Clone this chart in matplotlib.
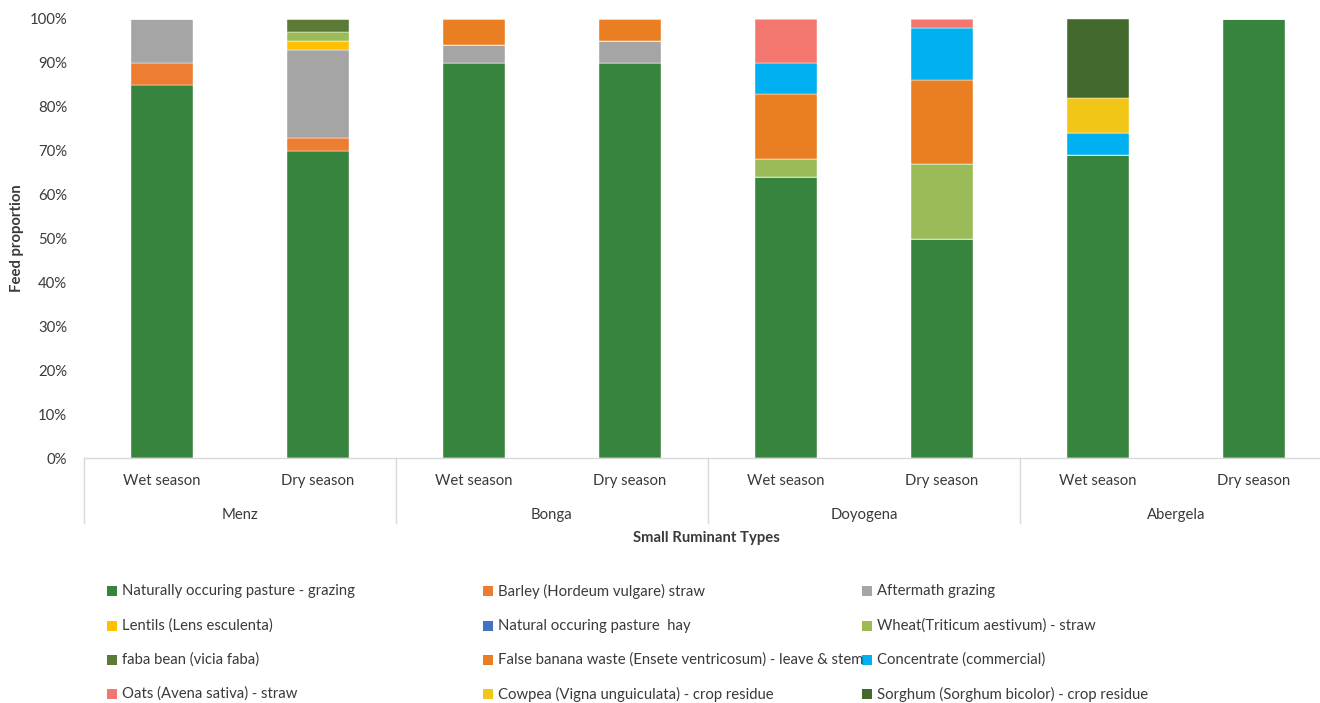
import matplotlib
matplotlib.use("Agg")
import matplotlib.pyplot as plt
import matplotlib.transforms as mtransforms
from matplotlib.patches import Rectangle
import numpy as np

plt.rcParams['font.family'] = ['Lato', 'DejaVu Sans']

regions = ["Menz", "Bonga", "Doyogena", "Abergela"]
seasons = ["Wet season", "Dry season"]

feed_types = [
    "Naturally occuring pasture - grazing",
    "Barley (Hordeum vulgare) straw",
    "Aftermath grazing",
    "Lentils (Lens esculenta)",
    "Natural occuring pasture  hay",
    "Wheat(Triticum aestivum) - straw",
    "faba bean (vicia faba)",
    "False banana waste (Ensete ventricosum) - leave & stem",
    "Concentrate (commercial)",
    "Oats (Avena sativa) - straw",
    "Cowpea (Vigna unguiculata) - crop residue",
    "Sorghum (Sorghum bicolor) - crop residue",
]

# Percent of feed, per bar: Menz wet/dry, Bonga wet/dry, Doyogena wet/dry, Abergela wet/dry
pasture_grazing = [85, 70, 90, 90, 64, 50, 69, 100]
barley_straw    = [5, 3, 0, 0, 0, 0, 0, 0]
aftermath       = [10, 20, 4, 5, 0, 0, 0, 0]
lentils         = [0, 2, 0, 0, 0, 0, 0, 0]
pasture_hay     = [0, 0, 0, 0, 0, 0, 0, 0]
wheat_straw     = [0, 2, 0, 0, 4, 17, 0, 0]
faba_bean       = [0, 3, 0, 0, 0, 0, 0, 0]
false_banana    = [0, 0, 6, 5, 15, 19, 0, 0]
concentrate     = [0, 0, 0, 0, 7, 12, 5, 0]
oats_straw      = [0, 0, 0, 0, 10, 2, 0, 0]
cowpea          = [0, 0, 0, 0, 0, 0, 8, 0]
sorghum         = [0, 0, 0, 0, 0, 0, 18, 0]

series = [pasture_grazing, barley_straw, aftermath, lentils, pasture_hay,
          wheat_straw, faba_bean, false_banana, concentrate, oats_straw,
          cowpea, sorghum]

colors = ["#37843F", "#ED7D31", "#A5A5A5", "#FFC000", "#4472C4", "#9BBB59",
          "#5A7A36", "#E97F22", "#00B0F0", "#F3776F", "#F2C616", "#436A2C"]

text_color = "#3A3A3A"
line_color = "#D9D9D9"
fs = 10.7

W, H = 1320, 703
fig = plt.figure(figsize=(W / 100, H / 100), dpi=100)

left = 84 / W
bottom = 1 - 458 / H
top = 1 - 19 / H
width = 8 * 156 / W
ax = fig.add_axes([left, bottom, width, top - bottom])

x = np.arange(len(regions) * len(seasons))
base = np.zeros(len(x))
for vals, col in zip(series, colors):
    v = np.array(vals, dtype=float) / 100.0
    ax.bar(x, v, width=0.4, bottom=base, color=col, edgecolor="white",
           linewidth=0.3)
    base += v

ax.set_xlim(-0.5, len(x) - 0.5)
ax.set_ylim(0, 1)
ax.set_yticks(np.arange(0, 1.01, 0.1))
ax.set_yticklabels([f"{int(round(t * 100))}%" for t in np.arange(0, 1.01, 0.1)])
ax.tick_params(axis="y", length=0, pad=12, labelsize=fs, labelcolor=text_color)
ax.set_xticks([])
for s in ["top", "right", "left"]:
    ax.spines[s].set_visible(False)
ax.spines["bottom"].set_color(line_color)
ax.spines["bottom"].set_linewidth(1.0)

ax_h_px = (top - bottom) * H
trans = mtransforms.blended_transform_factory(ax.transData, ax.transAxes)

# Group separators below the axis
for xs in np.arange(-0.5, len(x), 2):
    ax.plot([xs, xs], [0, -65 / ax_h_px], transform=trans, color=line_color,
            linewidth=1.0, clip_on=False)

# Season labels
for i, xi in enumerate(x):
    ax.text(xi, -23 / ax_h_px, seasons[i % 2], transform=trans, ha="center",
            va="center", fontsize=fs, color=text_color)

# Region labels
for g, name in enumerate(regions):
    ax.text(2 * g + 0.5, -57 / ax_h_px, name, transform=trans, ha="center",
            va="center", fontsize=fs, color=text_color)

fig.text(706 / W, 1 - 538 / H, "Small Ruminant Types", ha="center",
         va="center", fontsize=fs, fontweight="bold", color=text_color)
fig.text(17 / W, 1 - 238 / H, "Feed proportion", ha="center", va="center",
         rotation=90, fontsize=fs, fontweight="bold", color=text_color)

# Legend, row by row in three columns
col_x = [107, 483, 862]
row_y = [591, 626, 660, 694]
for i, (name, col) in enumerate(zip(feed_types, colors)):
    r, c = divmod(i, 3)
    mx, my = col_x[c], row_y[r]
    fig.add_artist(Rectangle((mx / W, 1 - (my + 5) / H), 10 / W, 10 / H,
                             transform=fig.transFigure, facecolor=col,
                             edgecolor="none"))
    fig.text((mx + 15) / W, 1 - my / H, name, ha="left", va="center",
             fontsize=fs, color=text_color)

fig.savefig("out.png", dpi=100)
